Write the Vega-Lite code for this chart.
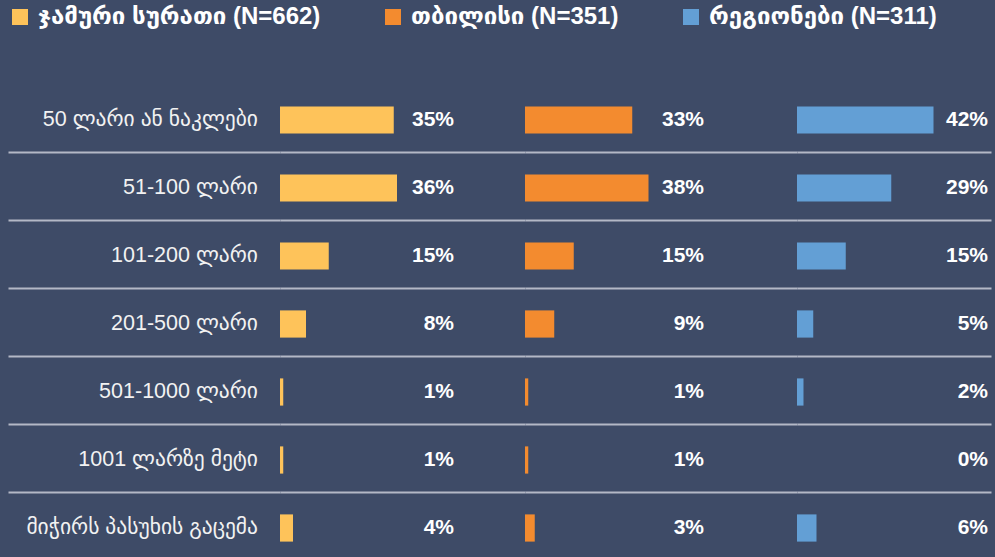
{
  "$schema": "https://vega.github.io/schema/vega-lite/v6.json",
  "background": "#3e4b67",
  "padding": {"left": 8, "top": 5, "right": 4, "bottom": 0},
  "spacing": 0,
  "config": {
    "font": "Liberation Sans, Arial, DejaVu Sans",
    "view": {"stroke": null},
    "legend": {"labelLimit": 600}
  },
  "data": {
    "values": [
      {"cat": "50 ლარი ან ნაკლები", "grp": "ჯამური სურათი (N=662)", "v": 0.35},
      {"cat": "51-100 ლარი", "grp": "ჯამური სურათი (N=662)", "v": 0.36},
      {"cat": "101-200 ლარი", "grp": "ჯამური სურათი (N=662)", "v": 0.15},
      {"cat": "201-500 ლარი", "grp": "ჯამური სურათი (N=662)", "v": 0.08},
      {"cat": "501-1000 ლარი", "grp": "ჯამური სურათი (N=662)", "v": 0.01},
      {"cat": "1001 ლარზე მეტი", "grp": "ჯამური სურათი (N=662)", "v": 0.01},
      {"cat": "მიჭირს პასუხის გაცემა", "grp": "ჯამური სურათი (N=662)", "v": 0.04},
      {"cat": "50 ლარი ან ნაკლები", "grp": "თბილისი (N=351)", "v": 0.33},
      {"cat": "51-100 ლარი", "grp": "თბილისი (N=351)", "v": 0.38},
      {"cat": "101-200 ლარი", "grp": "თბილისი (N=351)", "v": 0.15},
      {"cat": "201-500 ლარი", "grp": "თბილისი (N=351)", "v": 0.09},
      {"cat": "501-1000 ლარი", "grp": "თბილისი (N=351)", "v": 0.01},
      {"cat": "1001 ლარზე მეტი", "grp": "თბილისი (N=351)", "v": 0.01},
      {"cat": "მიჭირს პასუხის გაცემა", "grp": "თბილისი (N=351)", "v": 0.03},
      {"cat": "50 ლარი ან ნაკლები", "grp": "რეგიონები (N=311)", "v": 0.42},
      {"cat": "51-100 ლარი", "grp": "რეგიონები (N=311)", "v": 0.29},
      {"cat": "101-200 ლარი", "grp": "რეგიონები (N=311)", "v": 0.15},
      {"cat": "201-500 ლარი", "grp": "რეგიონები (N=311)", "v": 0.05},
      {"cat": "501-1000 ლარი", "grp": "რეგიონები (N=311)", "v": 0.02},
      {"cat": "1001 ლარზე მეტი", "grp": "რეგიონები (N=311)", "v": 0.0},
      {"cat": "მიჭირს პასუხის გაცემა", "grp": "რეგიონები (N=311)", "v": 0.06}
    ]
  },
  "resolve": {"scale": {"x": "independent", "y": "shared"}, "axis": {"y": "independent"}},
  "hconcat": [
    {
      "width": 272,
      "height": 476,
      "transform": [{"filter": "datum.grp === 'ჯამური სურათი (N=662)'"}],
      "mark": {"type": "text", "align": "right", "baseline": "middle", "x": "width", "dx": -22, "dy": 1.5, "fontSize": 21.5, "color": "#f2f2f2"},
      "encoding": {
        "y": {"field": "cat", "type": "nominal", "sort": ["50 ლარი ან ნაკლები", "51-100 ლარი", "101-200 ლარი", "201-500 ლარი", "501-1000 ლარი", "1001 ლარზე მეტი", "მიჭირს პასუხის გაცემა"], "scale": {"type": "band", "paddingInner": 0, "paddingOuter": 0},
          "axis": {"grid": true, "domain": false, "ticks": false, "labels": false, "title": null, "bandPosition": 0, "gridColor": "#b3b8c6", "gridWidth": 2,
            "gridOpacity": {"condition": {"test": "datum.value === '50 ლარი ან ნაკლები'", "value": 0}, "value": 1}}},
        "text": {"field": "cat", "type": "nominal"}
      }
    },
    {
      "width": 245,
      "height": 476,
      "transform": [{"filter": "datum.grp === 'ჯამური სურათი (N=662)'"}],
      "encoding": {
        "y": {"field": "cat", "type": "nominal", "sort": ["50 ლარი ან ნაკლები", "51-100 ლარი", "101-200 ლარი", "201-500 ლარი", "501-1000 ლარი", "1001 ლარზე მეტი", "მიჭირს პასუხის გაცემა"], "scale": {"type": "band", "paddingInner": 0, "paddingOuter": 0},
          "axis": {"grid": true, "domain": false, "ticks": false, "labels": false, "title": null, "bandPosition": 0, "gridColor": "#b3b8c6", "gridWidth": 2,
            "gridOpacity": {"condition": {"test": "datum.value === '50 ლარი ან ნაკლები'", "value": 0}, "value": 1}}}
      },
      "layer": [
        {
          "mark": {"type": "bar", "height": {"band": 0.4}, "yOffset": 2},
          "encoding": {
            "x": {"field": "v", "type": "quantitative", "scale": {"domain": [0, 0.7538], "nice": false}, "axis": null},
            "color": {"field": "grp", "type": "nominal",
              "scale": {"domain": ["ჯამური სურათი (N=662)", "თბილისი (N=351)", "რეგიონები (N=311)"], "range": ["#fec35a", "#f38b2f", "#639fd5"]},
              "legend": {"orient": "none", "legendX": 0, "legendY": -79, "direction": "horizontal", "title": null, "symbolType": "square", "symbolSize": 256, "symbolStrokeWidth": 0, "symbolOpacity": 1, "labelFontSize": 24, "labelFontWeight": "bold", "labelColor": "#ffffff", "columnPadding": 60, "labelOffset": 6}}
          }
        },
        {
          "mark": {"type": "text", "align": "right", "baseline": "middle", "x": "width", "dx": -71, "dy": 1.5, "fontSize": 21, "fontWeight": "bold", "color": "#ffffff"},
          "encoding": {"text": {"field": "v", "type": "quantitative", "format": ".0%"}}
        }
      ]
    },
    {
      "width": 272,
      "height": 476,
      "transform": [{"filter": "datum.grp === 'თბილისი (N=351)'"}],
      "encoding": {
        "y": {"field": "cat", "type": "nominal", "sort": ["50 ლარი ან ნაკლები", "51-100 ლარი", "101-200 ლარი", "201-500 ლარი", "501-1000 ლარი", "1001 ლარზე მეტი", "მიჭირს პასუხის გაცემა"], "scale": {"type": "band", "paddingInner": 0, "paddingOuter": 0},
          "axis": {"grid": true, "domain": false, "ticks": false, "labels": false, "title": null, "bandPosition": 0, "gridColor": "#b3b8c6", "gridWidth": 2,
            "gridOpacity": {"condition": {"test": "datum.value === '50 ლარი ან ნაკლები'", "value": 0}, "value": 1}}}
      },
      "layer": [
        {
          "mark": {"type": "bar", "height": {"band": 0.4}, "yOffset": 2},
          "encoding": {
            "x": {"field": "v", "type": "quantitative", "scale": {"domain": [0, 0.8369], "nice": false}, "axis": null},
            "color": {"field": "grp", "type": "nominal",
              "scale": {"domain": ["ჯამური სურათი (N=662)", "თბილისი (N=351)", "რეგიონები (N=311)"], "range": ["#fec35a", "#f38b2f", "#639fd5"]}}
          }
        },
        {
          "mark": {"type": "text", "align": "right", "baseline": "middle", "x": "width", "dx": -93, "dy": 1.5, "fontSize": 21, "fontWeight": "bold", "color": "#ffffff"},
          "encoding": {"text": {"field": "v", "type": "quantitative", "format": ".0%"}}
        }
      ]
    },
    {
      "width": 194,
      "height": 476,
      "transform": [{"filter": "datum.grp === 'რეგიონები (N=311)'"}],
      "encoding": {
        "y": {"field": "cat", "type": "nominal", "sort": ["50 ლარი ან ნაკლები", "51-100 ლარი", "101-200 ლარი", "201-500 ლარი", "501-1000 ლარი", "1001 ლარზე მეტი", "მიჭირს პასუხის გაცემა"], "scale": {"type": "band", "paddingInner": 0, "paddingOuter": 0},
          "axis": {"grid": true, "domain": false, "ticks": false, "labels": false, "title": null, "bandPosition": 0, "gridColor": "#b3b8c6", "gridWidth": 2,
            "gridOpacity": {"condition": {"test": "datum.value === '50 ლარი ან ნაკლები'", "value": 0}, "value": 1}}}
      },
      "layer": [
        {
          "mark": {"type": "bar", "height": {"band": 0.4}, "yOffset": 2},
          "encoding": {
            "x": {"field": "v", "type": "quantitative", "scale": {"domain": [0, 0.5969], "nice": false}, "axis": null},
            "color": {"field": "grp", "type": "nominal",
              "scale": {"domain": ["ჯამური სურათი (N=662)", "თბილისი (N=351)", "რეგიონები (N=311)"], "range": ["#fec35a", "#f38b2f", "#639fd5"]}}
          }
        },
        {
          "mark": {"type": "text", "align": "right", "baseline": "middle", "x": "width", "dx": -3, "dy": 1.5, "fontSize": 21, "fontWeight": "bold", "color": "#ffffff"},
          "encoding": {"text": {"field": "v", "type": "quantitative", "format": ".0%"}}
        }
      ]
    }
  ]
}
